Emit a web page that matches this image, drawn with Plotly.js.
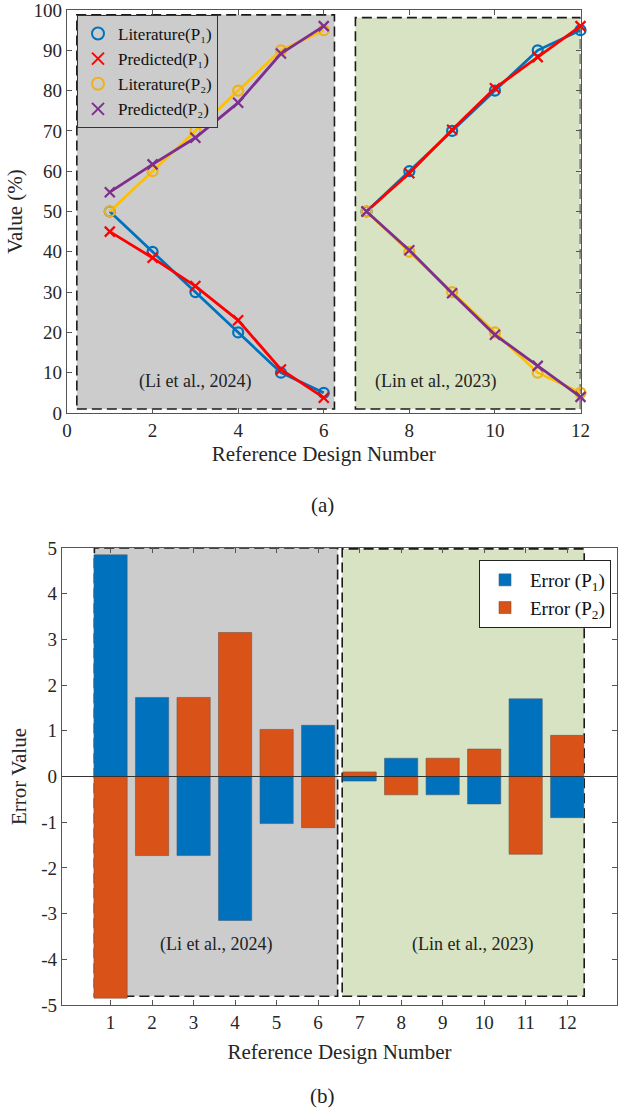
<!DOCTYPE html>
<html><head><meta charset="utf-8">
<script src="https://cdn.plot.ly/plotly-3.0.1.min.js"></script>
<style>html,body{margin:0;padding:0;background:#fff}#chart{width:619px;height:1113px}</style>
</head><body><div id="chart"></div>
<script>
const designs = [1,2,3,4,5,6,7,8,9,10,11,12];
const litP1  = [50,40,30,20,10,5, 50,60,70,80,90,95];
const predP1 = [45,38.5,31.5,23,10.8,3.8, 50,59.5,70.3,80.6,88.3,96];
const litP2  = [50,60,70,80,90,95, 50,40,30,20,10,5];
const predP2 = [54.8,61.7,68.3,77,89.2,96, 50,40.4,29.7,19.4,11.7,4];
const errP1 = [4.85,1.73,-1.73,-3.15,-1.03,1.12,-0.1,0.4,-0.4,-0.6,1.7,-0.9];
const errP2 = [-4.85,-1.73,1.73,3.15,1.03,-1.12,0.1,-0.4,0.4,0.6,-1.7,0.9];
const topXTicks = [0,2,4,6,8,10,12];
const topYTicks = [0,10,20,30,40,50,60,70,80,90,100];
const errTicks = [-5,-4,-3,-2,-1,0,1,2,3,4,5];
const errTickText = ['-5','-4','-3','-2','-1','0','1','2','3','4','5'];

const W=619,H=1113;
const FONT='Liberation Serif, Times New Roman, serif';
const cBlue='#0072BD', cRed='#FF0000', cYel='#FFC000', cPur='#7E2F8E';
const cOrg='#D95319', cGold='#EDB120';

const traces=[];
function addSeries(y,name,lc,mc,sym){
  [[0,6],[6,12]].forEach(r=>{
    traces.push({x:designs.slice(r[0],r[1]),y:y.slice(r[0],r[1]),type:'scatter',mode:'lines',
      showlegend:false,xaxis:'x',yaxis:'y',cliponaxis:false,hoverinfo:'skip',
      line:{color:lc,width:2.8}});
  });
  traces.push({x:designs,y:y,type:'scatter',mode:'markers',name:name,xaxis:'x',yaxis:'y',cliponaxis:false,
    marker:{symbol:sym,size:10,color:mc,line:{color:mc,width:2.2}}});
}
addSeries(litP1,'Literature(P₁)',cBlue,cBlue,'circle-open');
addSeries(predP1,'Predicted(P₁)',cRed,cRed,'x-thin-open');
addSeries(litP2,'Literature(P₂)',cYel,cGold,'circle-open');
addSeries(predP2,'Predicted(P₂)',cPur,cPur,'x-thin-open');

traces.push({x:designs,y:errP1,type:'bar',name:'Error (P<sub>1</sub>)',xaxis:'x2',yaxis:'y2',width:0.8,
  marker:{color:cBlue,line:{color:'#44607a',width:0.6}},legend:'legend2'});
traces.push({x:designs,y:errP2,type:'bar',name:'Error (P<sub>2</sub>)',xaxis:'x2',yaxis:'y2',width:0.8,
  marker:{color:cOrg,line:{color:'#7a5040',width:0.6}},legend:'legend2'});

const dash='10px,5px';
const edge={color:'#1a1a1a',width:1.6,dash:dash};
const shapes=[
  {type:'rect',xref:'x',yref:'y',x0:0.23,x1:6.25,y0:1.0,y1:98.8,fillcolor:'#cccccc',line:edge,layer:'below'},
  {type:'rect',xref:'x',yref:'y',x0:6.74,x1:12,y0:1.0,y1:98.1,fillcolor:'#d7e3c3',line:edge,layer:'below'},
  {type:'rect',xref:'x2',yref:'y2',x0:0.61,x1:6.47,y0:-4.81,y1:5,fillcolor:'#cccccc',line:edge,layer:'below'},
  {type:'rect',xref:'x2',yref:'y2',x0:6.58,x1:12.41,y0:-4.81,y1:4.98,fillcolor:'#d7e3c3',line:edge,layer:'below'},
  {type:'line',xref:'x2 domain',yref:'y2',x0:0,x1:1,y0:0,y1:0,line:{color:'#333',width:1},layer:'above'}
];

const ax={showgrid:false,zeroline:false,showline:true,mirror:'ticks',linecolor:'#555',linewidth:1.2,
  ticks:'inside',ticklen:5,tickcolor:'#555',ticklabeloverflow:'allow',tickfont:{family:FONT,size:19,color:'#262626'}};
const tfont={family:FONT,size:21,color:'#262626'};

const layout={
  width:W,height:H,margin:{l:0,r:0,t:0,b:0},paper_bgcolor:'#fff',plot_bgcolor:'rgba(0,0,0,0)',
  font:{family:FONT,color:'#262626'},barmode:'overlay',
  xaxis:Object.assign({},ax,{domain:[67/W,580.5/W],range:[0,12],tickvals:topXTicks,anchor:'y',
    title:{text:'Reference Design Number',font:tfont,standoff:6}}),
  yaxis:Object.assign({},ax,{domain:[1-413/H,1-10/H],range:[0,100],tickvals:topYTicks,anchor:'x',
    title:{text:'Value (%)',font:tfont,standoff:5}}),
  xaxis2:Object.assign({},ax,{domain:[62/W,617/W],range:[-0.17,13.2],tickvals:designs,anchor:'y2',
    title:{text:'Reference Design Number',font:tfont,standoff:12}}),
  yaxis2:Object.assign({},ax,{domain:[1-1005/H,1-548/H],range:[-5,5],tickvals:errTicks,ticktext:errTickText,anchor:'x2',
    title:{text:'Error Value',font:tfont,standoff:8}}),
  shapes:shapes,
  showlegend:true,
  legend:{x:77/W,y:1-15/H,xanchor:'left',yanchor:'top',bgcolor:'#cccccc',bordercolor:'#333',borderwidth:1,
    font:{family:FONT,size:17,color:'#111'},itemwidth:30,tracegroupgap:0,itemsizing:'constant'},
  legend2:{x:611/W,y:1-560/H,xanchor:'right',yanchor:'top',bgcolor:'#fff',bordercolor:'#222',borderwidth:1,
    font:{family:FONT,size:19,color:'#111'},itemwidth:40},
  annotations:[
    {xref:'x',yref:'y',x:3.0,y:7.8,text:'(Li et al., 2024)',showarrow:false,font:{family:FONT,size:18,color:'#222'}},
    {xref:'x',yref:'y',x:8.6,y:7.8,text:'(Lin et al., 2023)',showarrow:false,font:{family:FONT,size:18,color:'#222'}},
    {xref:'x2',yref:'y2',x:3.54,y:-3.68,text:'(Li et al., 2024)',showarrow:false,font:{family:FONT,size:18,color:'#222'}},
    {xref:'x2',yref:'y2',x:9.73,y:-3.68,text:'(Lin et al., 2023)',showarrow:false,font:{family:FONT,size:18,color:'#222'}},
    {xref:'paper',yref:'paper',x:322/W,y:1-505/H,text:'(a)',showarrow:false,font:{family:FONT,size:21,color:'#222'}},
    {xref:'paper',yref:'paper',x:322/W,y:1-1096/H,yanchor:'middle',text:'(b)',showarrow:false,font:{family:FONT,size:21,color:'#222'}}
  ]
};
Plotly.newPlot('chart',traces,layout,{staticPlot:true,displayModeBar:false});
</script></body></html>
